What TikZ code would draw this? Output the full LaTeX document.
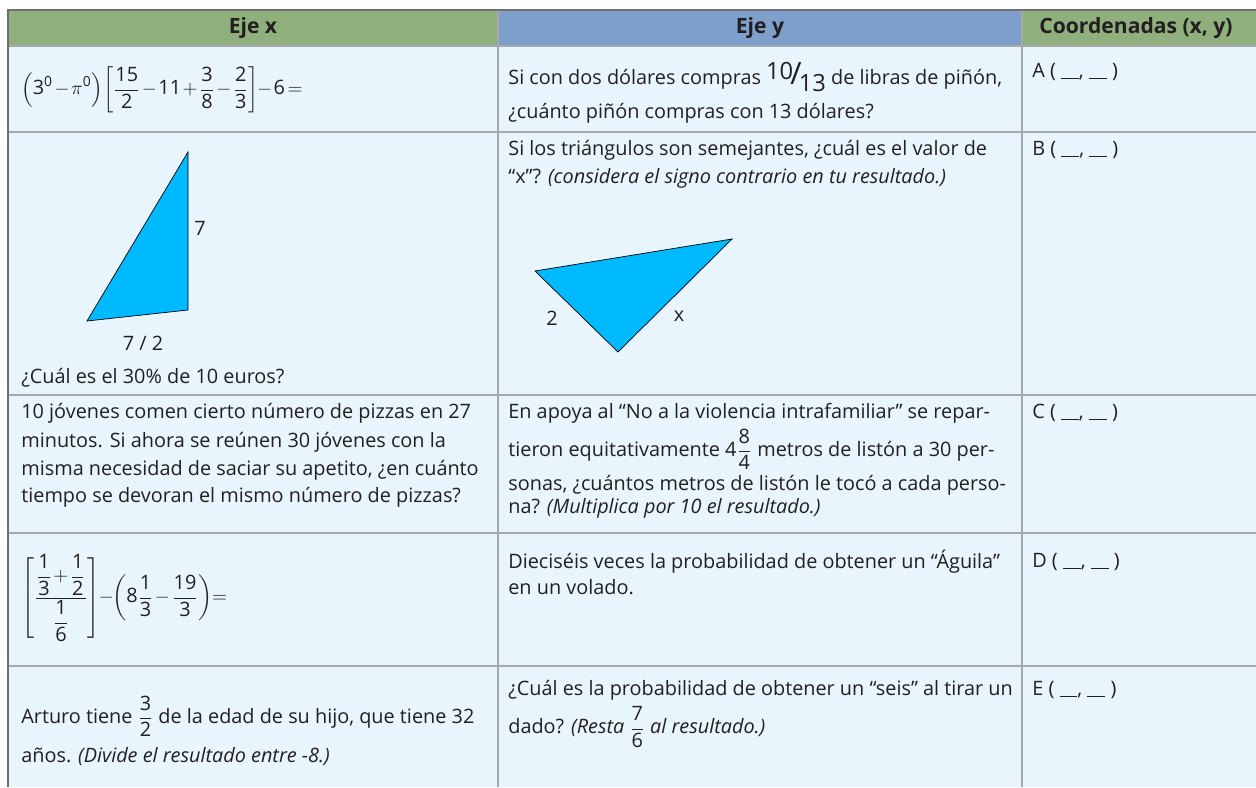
\documentclass[tikz,border=0pt]{standalone}
\usepackage{amsmath,graphicx}
\usepackage[no-math]{fontspec}
\setmainfont[NFSSFamily=opensans]{Open Sans}
\DeclareSymbolFont{sansdigits}{TU}{opensans}{m}{n}
\newcommand{\sansdigit}[1]{\Umathcode`#1="7 \symsansdigits `#1\relax}
\AtBeginDocument{\sansdigit0\sansdigit1\sansdigit2\sansdigit3\sansdigit4
    \sansdigit5\sansdigit6\sansdigit7\sansdigit8\sansdigit9}

\definecolor{headgreen}{RGB}{143,176,125}
\definecolor{headblue}{RGB}{127,159,204}
\definecolor{cellblue}{RGB}{232,245,252}
\definecolor{gridgray}{RGB}{165,168,172}
\definecolor{framegray}{RGB}{110,110,112}
\definecolor{trifill}{RGB}{0,186,255}
\definecolor{textdark}{RGB}{35,31,32}

\newcommand{\blanks}{(\ \rule[-0.5pt]{0.9em}{0.5pt}, \rule[-0.5pt]{0.9em}{0.5pt}\ )}

\begin{document}
\begin{tikzpicture}[x=0.02cm,y=-0.02cm,
    cell/.style={anchor=west,inner sep=0pt,text=textdark,font=\fontsize{11.3}{14}\selectfont},
    formula/.style={cell,execute at begin node={\medmuskip=1.5mu\thickmuskip=2.5mu}},
    head/.style={inner sep=0pt,text=textdark,font=\fontsize{12}{14}\selectfont\bfseries},
    tri/.style={draw=black,line width=0.4pt,fill=trifill}]
    \useasboundingbox (0,0) rectangle (1256,787);
    \fill[cellblue] (8,46) rectangle (1256,787);
    \fill[headgreen] (8,10) rectangle (498,46);
    \fill[headblue] (498,10) rectangle (1022,46);
    \fill[headgreen] (1022,10) rectangle (1256,46);
    \foreach \y in {46,132,395,533,666}{
        \draw[gridgray,line width=1pt] (8,\y) -- (1256,\y);
    }
    \foreach \x in {498,1022}{
        \draw[gridgray,line width=1pt] (\x,10) -- (\x,787);
    }
    \draw[framegray,line width=1.2pt] (8,787) -- (8,10) -- (1256,10);

    \node[head] (hdx) at (253,28) {Eje x};
    \node[head] (hdy) at (760,28) {Eje y};
    \node[head] (hdc) at (1136,28) {Coordenadas (x, y)};

    % fila A
    \node[formula] (axform) at (21,90) {$\displaystyle\left(3^0-\pi^0\right)\!\left[\frac{15}{2}-11+\frac{3}{8}-\frac{2}{3}\right]\!-6=$};
    \node[cell] (ay1) at (508,77) {Si con dos dólares compras {\fontsize{13.5}{14}\selectfont\raisebox{0.45ex}{10}\kern-0.12em\scalebox{1.3}{/}\kern-0.12em\raisebox{-0.55ex}{13}} de libras de piñón,};
    \node[cell] (ay2) at (508,113) {¿cuánto piñón compras con 13 dólares?};
    \node[cell] (acoord) at (1032,72) {A \blanks};

    % fila B
    \draw[tri] (188,152) -- (188,310) -- (87,321) -- cycle;
    \node[cell,anchor=center] (bside) at (200,228) {7};
    \node[cell,anchor=center] (bbase) at (143,343) {7 / 2};
    \node[cell] (bx1) at (21,378) {¿Cuál es el 30\% de 10 euros?};
    \node[cell] (by1) at (508,150) {Si los triángulos son semejantes, ¿cuál es el valor de};
    \node[cell] (by2) at (508,178) {“x”? \textit{(considera el signo contrario en tu resultado.)}};
    \draw[tri] (535,271) -- (732,239) -- (618,352) -- cycle;
    \node[cell,anchor=center] (btwo) at (552,318) {2};
    \node[cell,anchor=center] (bxlab) at (679,316) {x};
    \node[cell] (bcoord) at (1032,150) {B \blanks};

    % fila C
    \node[cell] (cx1) at (21,413) {10 jóvenes comen cierto número de pizzas en 27};
    \node[cell] (cx2) at (21,442) {minutos. Si ahora se reúnen 30 jóvenes con la};
    \node[cell] (cx3) at (21,470) {misma necesidad de saciar su apetito, ¿en cuánto};
    \node[cell] (cx4) at (21,497) {tiempo se devoran el mismo número de pizzas?};
    \node[cell] (cy1) at (508,413) {En apoya al “No a la violencia intrafamiliar” se repar-};
    \node[cell] (cy2) at (508,449) {tieron equitativamente $\displaystyle4\frac{8}{4}$ metros de listón a 30 per-};
    \node[cell] (cy3) at (508,485) {sonas, ¿cuántos metros de listón le tocó a cada perso-};
    \node[cell] (cy4) at (508,508) {na? \textit{(Multiplica por 10 el resultado.)}};
    \node[cell] (ccoord) at (1032,413) {C \blanks};

    % fila D
    \node[formula] (dxform) at (21,598) {$\displaystyle\left[\frac{\dfrac{1}{3}+\dfrac{1}{2}}{\dfrac{1}{6}}\right]\!-\!\left(8\frac{1}{3}-\frac{19}{3}\right)\!=$};
    \node[cell] (dy1) at (508,562) {Dieciséis veces la probabilidad de obtener un “Águila”};
    \node[cell] (dy2) at (508,587) {en un volado.};
    \node[cell] (dcoord) at (1032,562) {D \blanks};

    % fila E
    \node[cell] (ex1) at (21,716) {Arturo tiene $\displaystyle\frac{3}{2}$ de la edad de su hijo, que tiene 32};
    \node[cell] (ex2) at (21,757) {años. \textit{(Divide el resultado entre -8.)}};
    \node[cell] (ey1) at (508,690) {¿Cuál es la probabilidad de obtener un “seis” al tirar un};
    \node[cell] (ey2) at (508,727) {dado? \textit{(Resta $\displaystyle\frac{7}{6}$ al resultado.)}};
    \node[cell] (ecoord) at (1032,690) {E \blanks};
\end{tikzpicture}
\end{document}
